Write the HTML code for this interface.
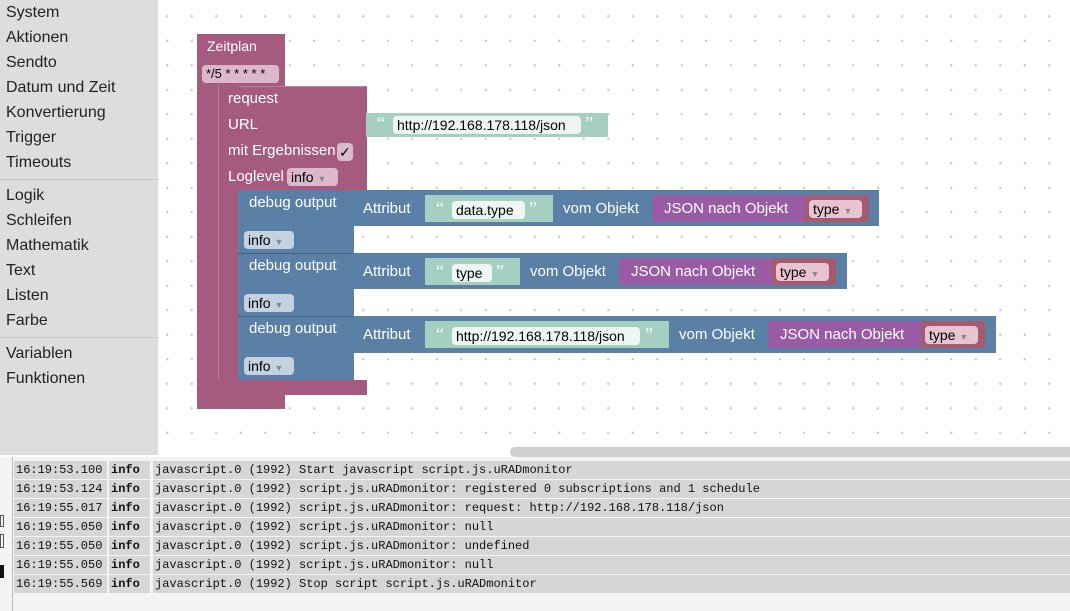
<!DOCTYPE html>
<html><head><meta charset="utf-8"><style>
*{margin:0;padding:0;box-sizing:border-box}
body{width:1070px;height:611px;overflow:hidden;position:relative;background:#fff;font-family:"Liberation Sans",Arial,sans-serif}
.a{position:absolute}
#side{left:0;top:0;width:158px;height:455px;background:#dddddd}
#side div{position:absolute;left:6px;font-size:16px;color:#222}
.sep{position:absolute;left:0;width:158px;height:1px;background:#c8c8c8}
#ws{left:158px;top:0;width:912px;height:455px;background-color:#fff;background-image:radial-gradient(circle,#c8c8c8 1px,transparent 1.3px);background-size:24.5px 24.5px;background-position:-3px 4px}
.t{position:absolute;color:#fff;font-size:15px;white-space:nowrap}
.pk{background:#a55b80}
.bl{background:#5b80a5}
.tl{background:#a5cfc0}
.pu{background:#9a5ba5}
.rd{background:#a55b6f}
.fld{position:absolute;border-radius:4px;font-size:14px;color:#000;padding:0 4px;height:18px;line-height:18px;white-space:nowrap}
.log{position:absolute;left:14px;width:1056px;height:18px;font-family:"Liberation Mono",monospace;font-size:12px;line-height:18px;color:#111}
.log span{position:absolute;top:0;height:18px;background:#d6d6d6;padding-left:2px}
.q{color:#fff;font-size:18px;font-family:"Liberation Serif",serif;position:absolute}
</style></head><body>
<div id="side" class="a">
<div style="top:4px">System</div><div style="top:29px">Aktionen</div><div style="top:54px">Sendto</div><div style="top:79px">Datum und Zeit</div><div style="top:104px">Konvertierung</div><div style="top:129px">Trigger</div><div style="top:154px">Timeouts</div>
<span class="sep" style="top:179px"></span>
<div style="top:187px">Logik</div><div style="top:212px">Schleifen</div><div style="top:237px">Mathematik</div><div style="top:262px">Text</div><div style="top:287px">Listen</div><div style="top:312px">Farbe</div>
<span class="sep" style="top:337px"></span>
<div style="top:345px">Variablen</div><div style="top:370px">Funktionen</div>
</div>
<div id="ws" class="a"></div>
<div class="a" style="left:510px;top:447px;width:560px;height:10px;background:#cfcfcf;border-radius:5px 0 0 5px"></div>

<!-- Zeitplan -->
<div class="a pk" style="left:197px;top:34px;width:88px;height:52px"></div>
<div class="a pk" style="left:197px;top:34px;width:22px;height:375px"></div>
<div class="a pk" style="left:197px;top:395px;width:88px;height:14px"></div>
<div class="t" style="left:207px;top:38px;font-size:14px">Zeitplan</div>
<div class="fld" style="left:202px;top:65px;background:#dbb9ca;width:77px;font-size:13px">*/5 * * * * *</div>

<!-- request -->
<div class="a pk" style="left:218px;top:86px;width:149px;height:104px;border-top:1px solid #c07c9e"></div>
<div class="a pk" style="left:218px;top:86px;width:21px;height:309px;border-left:1px solid #c07c9e"></div>
<div class="a pk" style="left:218px;top:380px;width:149px;height:15px"></div>
<div class="t" style="left:228px;top:90px;font-size:15px">request</div>
<div class="t" style="left:228px;top:116px">URL</div>
<div class="t" style="left:228px;top:142px">mit Ergebnissen</div>
<div class="fld" style="left:337px;top:143px;background:#dbb9ca;width:16px;padding:0 2px">✓</div>
<div class="t" style="left:228px;top:168px">Loglevel</div>
<div class="fld" style="left:287px;top:168px;background:#dbb9ca;width:51px">info <span style="font-size:9px;color:#888">▼</span></div>

<div class="a tl" style="left:366px;top:113px;width:242px;height:24px"></div>
<div class="q" style="left:377px;top:113px">“</div>
<div class="fld" style="left:393px;top:116px;background:#eef6f2;width:188px;font-size:14px">http://192.168.178.118/json</div>
<div class="q" style="left:585px;top:113px">”</div>

<!-- debug blocks -->
<div class="a bl" style="left:238px;top:190px;width:116px;height:190px"></div>
<div class="a" style="left:238px;top:253px;width:116px;height:1px;background:#3f6080"></div>
<div class="a" style="left:238px;top:316px;width:116px;height:1px;background:#3f6080"></div>

<div class="t" style="left:249px;top:194px">debug output</div>
<div class="fld" style="left:244px;top:231px;background:#c3d1e0;width:50px">info <span style="font-size:9px;color:#888">▼</span></div>
<div class="a bl" style="left:353px;top:190px;width:526px;height:36px"></div>
<div class="t" style="left:363px;top:200px">Attribut</div>
<div class="a tl" style="left:425px;top:195px;width:128px;height:27px"></div>
<div class="q" style="left:436px;top:198px">“</div>
<div class="fld" style="left:452px;top:201px;background:#eef6f2;width:73px">data.type</div>
<div class="q" style="left:529px;top:198px">”</div>
<div class="t" style="left:563px;top:200px">vom Objekt</div>
<div class="a pu" style="left:652px;top:195px;width:153px;height:27px"></div>
<div class="t" style="left:664px;top:200px">JSON nach Objekt</div>
<div class="a rd" style="left:805px;top:195px;width:64px;height:27px"></div>
<div class="fld" style="left:809px;top:200px;background:#e8c4d2;width:53px">type <span style="font-size:9px;color:#888">▼</span></div>

<div class="t" style="left:249px;top:257px">debug output</div>
<div class="fld" style="left:244px;top:294px;background:#c3d1e0;width:50px">info <span style="font-size:9px;color:#888">▼</span></div>
<div class="a bl" style="left:353px;top:253px;width:494px;height:36px"></div>
<div class="t" style="left:363px;top:263px">Attribut</div>
<div class="a tl" style="left:425px;top:258px;width:95px;height:27px"></div>
<div class="q" style="left:436px;top:261px">“</div>
<div class="fld" style="left:452px;top:264px;background:#eef6f2;width:40px">type</div>
<div class="q" style="left:496px;top:261px">”</div>
<div class="t" style="left:530px;top:263px">vom Objekt</div>
<div class="a pu" style="left:619px;top:258px;width:153px;height:27px"></div>
<div class="t" style="left:631px;top:263px">JSON nach Objekt</div>
<div class="a rd" style="left:772px;top:258px;width:64px;height:27px"></div>
<div class="fld" style="left:776px;top:263px;background:#e8c4d2;width:53px">type <span style="font-size:9px;color:#888">▼</span></div>

<div class="t" style="left:249px;top:320px">debug output</div>
<div class="fld" style="left:244px;top:357px;background:#c3d1e0;width:50px">info <span style="font-size:9px;color:#888">▼</span></div>
<div class="a bl" style="left:353px;top:316px;width:643px;height:37px"></div>
<div class="t" style="left:363px;top:326px">Attribut</div>
<div class="a tl" style="left:425px;top:321px;width:244px;height:27px"></div>
<div class="q" style="left:436px;top:324px">“</div>
<div class="fld" style="left:452px;top:327px;background:#eef6f2;width:188px">http://192.168.178.118/json</div>
<div class="q" style="left:645px;top:324px">”</div>
<div class="t" style="left:679px;top:326px">vom Objekt</div>
<div class="a pu" style="left:768px;top:321px;width:153px;height:27px"></div>
<div class="t" style="left:780px;top:326px">JSON nach Objekt</div>
<div class="a rd" style="left:921px;top:321px;width:64px;height:27px"></div>
<div class="fld" style="left:925px;top:326px;background:#e8c4d2;width:53px">type <span style="font-size:9px;color:#888">▼</span></div>

<!-- log -->
<div class="a" style="left:0;top:457px;width:1070px;height:154px;background:#f4f4f4"></div>
<div class="a" style="left:12px;top:457px;width:1px;height:154px;background:#bbb"></div>
<div class="a" style="left:0;top:515px;width:4px;height:12px;border:1px solid #555"></div>
<div class="a" style="left:0;top:534px;width:4px;height:14px;border:1px solid #555"></div>
<div class="a" style="left:0;top:565px;width:4px;height:13px;background:#111"></div>

<div class="log" style="top:461px"><span style="left:0;width:93px">16:19:53.100</span><span style="left:95px;width:41px;font-weight:bold">info</span><span style="left:139px;width:917px">javascript.0 (1992) Start javascript script.js.uRADmonitor</span></div>
<div class="log" style="top:480px"><span style="left:0;width:93px">16:19:53.124</span><span style="left:95px;width:41px;font-weight:bold">info</span><span style="left:139px;width:917px">javascript.0 (1992) script.js.uRADmonitor: registered 0 subscriptions and 1 schedule</span></div>
<div class="log" style="top:499px"><span style="left:0;width:93px">16:19:55.017</span><span style="left:95px;width:41px;font-weight:bold">info</span><span style="left:139px;width:917px">javascript.0 (1992) script.js.uRADmonitor: request: http://192.168.178.118/json</span></div>
<div class="log" style="top:518px"><span style="left:0;width:93px">16:19:55.050</span><span style="left:95px;width:41px;font-weight:bold">info</span><span style="left:139px;width:917px">javascript.0 (1992) script.js.uRADmonitor: null</span></div>
<div class="log" style="top:537px"><span style="left:0;width:93px">16:19:55.050</span><span style="left:95px;width:41px;font-weight:bold">info</span><span style="left:139px;width:917px">javascript.0 (1992) script.js.uRADmonitor: undefined</span></div>
<div class="log" style="top:556px"><span style="left:0;width:93px">16:19:55.050</span><span style="left:95px;width:41px;font-weight:bold">info</span><span style="left:139px;width:917px">javascript.0 (1992) script.js.uRADmonitor: null</span></div>
<div class="log" style="top:575px"><span style="left:0;width:93px">16:19:55.569</span><span style="left:95px;width:41px;font-weight:bold">info</span><span style="left:139px;width:917px">javascript.0 (1992) Stop script script.js.uRADmonitor</span></div>
</body></html>
